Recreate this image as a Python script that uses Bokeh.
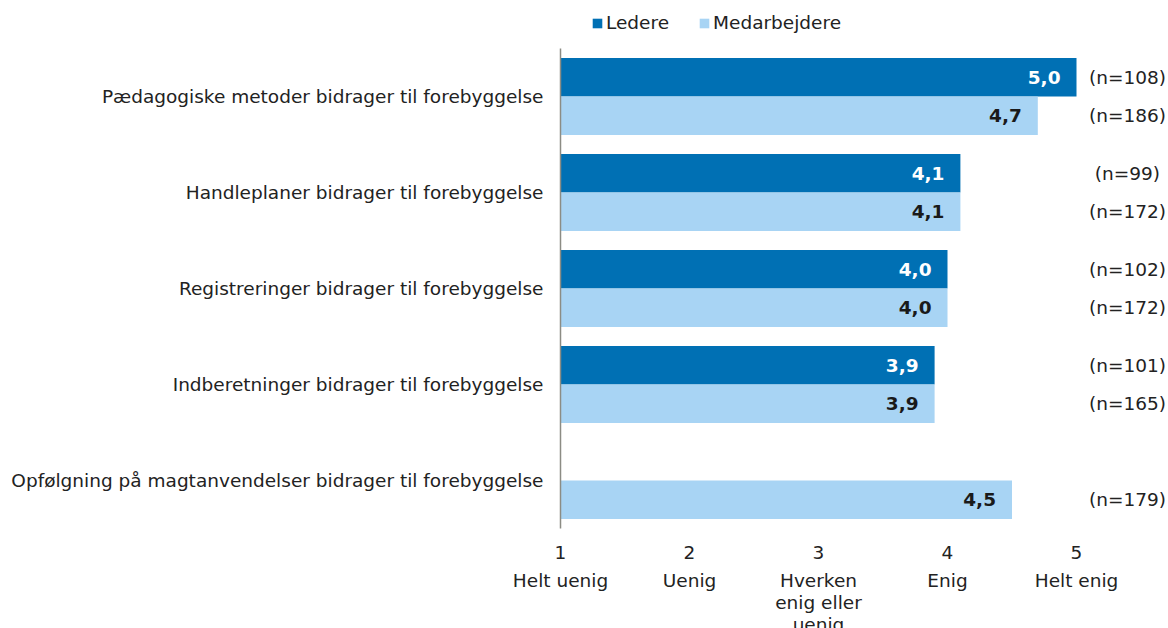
from bokeh.plotting import figure
from bokeh.models import (ColumnDataSource, Range1d, FixedTicker, Legend, LegendItem)
from bokeh.core.properties import value
from bokeh.embed import file_html
from bokeh.resources import INLINE

categories = [
    "Pædagogiske metoder bidrager til forebyggelse",
    "Handleplaner bidrager til forebyggelse",
    "Registreringer bidrager til forebyggelse",
    "Indberetninger bidrager til forebyggelse",
    "Opfølgning på magtanvendelser bidrager til forebyggelse",
]
ledere = [5.0, 4.1, 4.0, 3.9, None]
medarbejdere = [4.7, 4.1, 4.0, 3.9, 4.5]
n_ledere = [108, 99, 102, 101, None]
n_medarbejdere = [186, 172, 172, 165, 179]
scale_ticks = [1, 2, 3, 4, 5]
scale_labels = ["Helt uenig", "Uenig", "Hverken\nenig eller\nuenig", "Enig", "Helt enig"]
series_names = ["Ledere", "Medarbejdere"]

FONT = "DejaVu Sans"
FS = "18.5px"
TXT = "#222222"
DARK = "#0070B4"
LIGHT = "#A8D4F4"

def fmt(v):
    return f"{v:.1f}".replace(".", ",")

led_idx = [i for i, v in enumerate(ledere) if v is not None]
src_l = ColumnDataSource(dict(
    y=[i - 0.2 for i in led_idx],
    v=[ledere[i] for i in led_idx],
    lab=[fmt(ledere[i]) for i in led_idx],
    n=[f"(n={n_ledere[i]})" for i in led_idx],
))
med_idx = [i for i, v in enumerate(medarbejdere) if v is not None]
src_m = ColumnDataSource(dict(
    y=[i + 0.2 for i in med_idx],
    v=[medarbejdere[i] for i in med_idx],
    lab=[fmt(medarbejdere[i]) for i in med_idx],
    n=[f"(n={n_medarbejdere[i]})" for i in med_idx],
))

W, H = 1168, 628
p = figure(width=W, height=H, output_backend="svg", toolbar_location=None,
           x_range=Range1d(1, 1 + 608 / 129), y_range=Range1d(4.5, -1.0),
           min_border_left=560, min_border_right=0, min_border_top=0,
           min_border_bottom=100)
p.outline_line_color = None
p.xgrid.grid_line_color = None
p.ygrid.grid_line_color = None
p.background_fill_color = "white"
p.border_fill_color = "white"

rl = p.hbar(y="y", right="v", left=1, height=0.4, source=src_l,
            fill_color=DARK, line_color=None)
rm = p.hbar(y="y", right="v", left=1, height=0.4, source=src_m,
            fill_color=LIGHT, line_color=None)

p.text(x="v", y="y", text="lab", source=src_l, x_offset=-16,
       text_align="right", text_baseline="middle", text_color="white",
       text_font=value(FONT), text_font_size=FS, text_font_style="bold")
p.text(x="v", y="y", text="lab", source=src_m, x_offset=-16,
       text_align="right", text_baseline="middle", text_color="#1a1a1a",
       text_font=value(FONT), text_font_size=FS, text_font_style="bold")

tn1 = p.text(x=5.395, y="y", text="n", source=src_l, text_align="center",
             text_baseline="middle", text_color=TXT, text_font=value(FONT),
             text_font_size=FS)
tn2 = p.text(x=5.395, y="y", text="n", source=src_m, text_align="center",
             text_baseline="middle", text_color=TXT, text_font=value(FONT),
             text_font_size=FS)
tn1.level = "overlay"
tn2.level = "overlay"

# scale descriptions below the numbers
src_s = ColumnDataSource(dict(x=scale_ticks, t=scale_labels))
ts = p.text(x="x", y=4.5 + 41 / 96, text="t", source=src_s, text_align="center",
            text_baseline="top", text_color=TXT, text_font=value(FONT),
            text_font_size=FS, text_line_height=1.07)
ts.level = "overlay"

# y axis
ya = p.yaxis[0]
ya.ticker = FixedTicker(ticks=list(range(len(categories))))
ya.major_label_overrides = {i: c for i, c in enumerate(categories)}
ya.bounds = (-0.5, len(categories) - 0.5)
ya.major_tick_line_color = None
ya.minor_tick_line_color = None
ya.major_tick_out = 0
ya.major_tick_in = 0
ya.axis_line_color = "#8c8c84"
ya.axis_line_width = 1.5
ya.major_label_standoff = 17
ya.major_label_text_font = FONT
ya.major_label_text_font_size = FS
ya.major_label_text_color = TXT

# x axis
xa = p.xaxis[0]
xa.ticker = FixedTicker(ticks=scale_ticks)
xa.axis_line_color = None
xa.major_tick_line_color = None
xa.minor_tick_line_color = None
xa.major_tick_out = 0
xa.major_tick_in = 0
xa.major_label_standoff = 17
xa.major_label_text_font = FONT
xa.major_label_text_font_size = FS
xa.major_label_text_color = TXT

legend = Legend(items=[LegendItem(label=series_names[0], renderers=[rl]),
                       LegendItem(label=series_names[1], renderers=[rm])],
                orientation="horizontal", location=(31, 495),
                glyph_width=12, glyph_height=12, label_standoff=3,
                spacing=29, padding=0, margin=0, border_line_color=None,
                background_fill_alpha=0, label_text_font=FONT,
                label_text_font_size=FS, label_text_color=TXT,
                label_height=20)
p.add_layout(legend)

open("out.html", "w").write(file_html(p, INLINE))
